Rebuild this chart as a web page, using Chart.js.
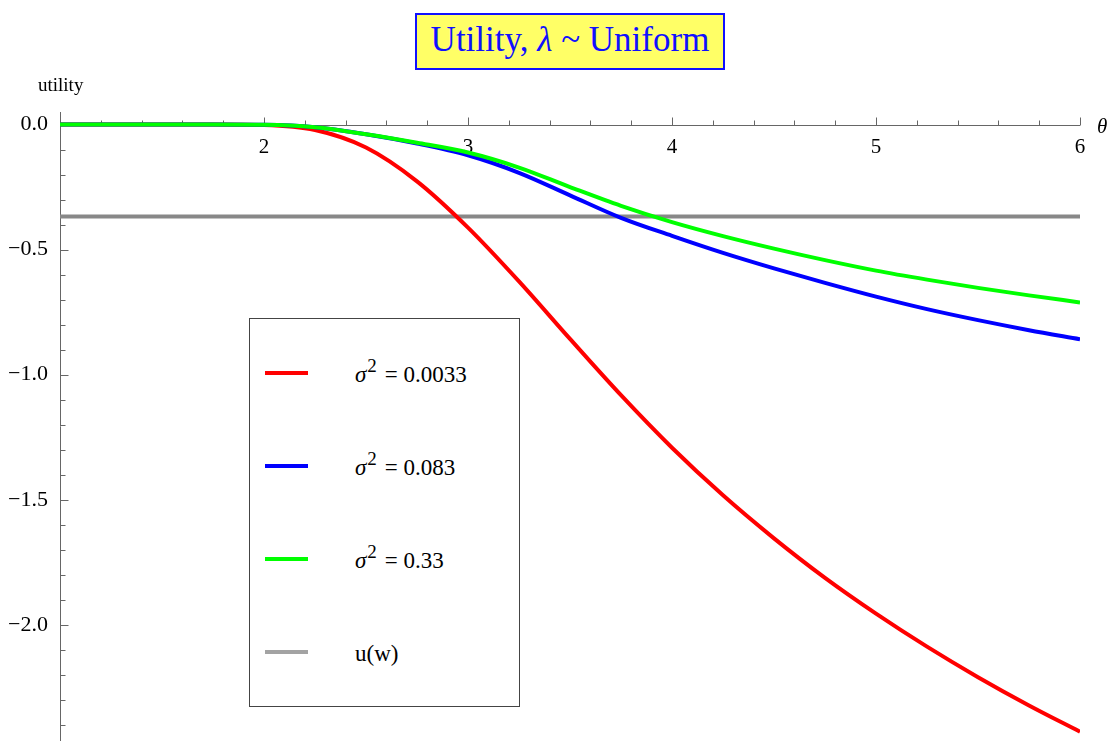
<!DOCTYPE html>
<html>
<head>
<meta charset="utf-8">
<script src="https://cdn.jsdelivr.net/npm/chart.js@4"></script>
<style>
  body { margin: 0; background: #fff; font-family: 'Liberation Serif', serif; }
  #wrap { position: relative; width: 1110px; height: 741px; overflow: hidden; }
  canvas { display: block; }
  #title {
    position: absolute; left: 415px; top: 13px; width: 306px; height: 53px;
    background: #ffff66; border: 2px solid #1010ff; color: #1010ff;
    font-size: 35px; line-height: 49px; text-align: center; white-space: nowrap;
  }
  #ylab { position: absolute; left: 38px; top: 74px; font-size: 19px; }
  #xlab { position: absolute; left: 1097px; top: 114px; font-size: 21px; font-style: italic; }
  #legend {
    position: absolute; left: 249px; top: 318px; width: 269px; height: 387px;
    border: 1px solid #444; background: #fff;
  }
  .item { position: absolute; left: 0; width: 269px; height: 30px; }
  .swatch { position: absolute; left: 15px; top: 13px; width: 43px; height: 4px; }
  .txt { position: absolute; left: 105px; top: 2px; font-size: 23px; line-height: 30px; white-space: nowrap; }
  .txt sup { font-size: 19px; vertical-align: 10px; line-height: 0; margin-left: 1px; margin-right: 8px; }
</style>
</head>
<body>
<div id="wrap">
  <canvas id="myChart" width="1110" height="741"></canvas>
  <div id="title">Utility, <i>λ</i> ~ Uniform</div>
  <div id="ylab">utility</div>
  <div id="xlab">θ</div>
  <div id="legend"></div>
</div>
<script>
// theta values and read-off utility curves
const theta = [1, 1.25, 1.5, 1.75, 2, 2.25, 2.5, 2.75, 3, 3.25, 3.5, 3.75, 4, 4.25, 4.5, 4.75, 5, 5.25, 5.5, 5.75, 6];
const uRed = [0, 0, 0, 0, -0.002, -0.022, -0.092, -0.227, -0.412, -0.627, -0.857, -1.082, -1.292, -1.482, -1.654, -1.812, -1.955, -2.087, -2.209, -2.322, -2.427];
const uBlue = [0, 0, 0, 0, -0.001, -0.011, -0.039, -0.076, -0.123, -0.193, -0.283, -0.373, -0.445, -0.513, -0.575, -0.633, -0.688, -0.738, -0.782, -0.822, -0.858];
const uGreen = [0, 0, 0, 0, -0.001, -0.011, -0.039, -0.073, -0.112, -0.172, -0.25, -0.325, -0.39, -0.446, -0.496, -0.542, -0.584, -0.62, -0.653, -0.683, -0.711];
const uW = -0.368;

const sigmaLabels = ['0.0033', '0.083', '0.33'];
const xTicks = [2, 3, 4, 5, 6];
const yTicks = [-2.0, -1.5, -1.0, -0.5, 0];

const pts = (ys) => theta.map((t, i) => ({ x: t, y: ys[i] }));

const series = [
  { label: sigmaLabels[0], data: pts(uRed), color: '#ff0000', swatch: '#ff0000' },
  { label: sigmaLabels[1], data: pts(uBlue), color: '#0000ff', swatch: '#0000ff' },
  { label: sigmaLabels[2], data: pts(uGreen), color: '#00ff00', swatch: '#00ff00' },
  { label: 'u(w)', data: [{ x: 1, y: uW }, { x: 6, y: uW }], color: '#888888', swatch: '#a3a3a3' },
];

// legend box
const legend = document.getElementById('legend');
series.forEach((s, i) => {
  const item = document.createElement('div');
  item.className = 'item';
  item.style.top = (39 + i * 93) + 'px';
  const text = i < 3 ? '<i>σ</i><sup>2</sup>= ' + s.label : s.label;
  item.innerHTML = '<div class="swatch" style="background:' + s.swatch + '"></div><div class="txt">' + text + '</div>';
  legend.appendChild(item);
});

// Mathematica-like axes with inward tick marks
const axesPlugin = {
  id: 'axes',
  beforeDatasetsDraw(chart) {
    const { ctx, chartArea, scales: { x, y } } = chart;
    const y0 = Math.round(y.getPixelForValue(0)) + 0.5;
    const x0 = Math.round(chartArea.left) + 0.5;
    ctx.save();
    ctx.strokeStyle = '#666';
    ctx.lineWidth = 1;
    ctx.beginPath();
    ctx.moveTo(chartArea.left, y0);
    ctx.lineTo(chartArea.right, y0);
    ctx.moveTo(x0, chartArea.top);
    ctx.lineTo(x0, chartArea.bottom);
    for (let k = 6; k <= 30; k++) {
      const px = Math.round(x.getPixelForValue(k / 5)) + 0.5;
      const len = k % 5 === 0 ? 8 : 5;
      ctx.moveTo(px, y0);
      ctx.lineTo(px, y0 - len);
    }
    for (let k = 0; k >= -24; k--) {
      const py = Math.round(y.getPixelForValue(k / 10)) + 0.5;
      const len = k % 5 === 0 ? 8 : 5;
      ctx.moveTo(x0, py);
      ctx.lineTo(x0 + len, py);
    }
    ctx.stroke();
    ctx.restore();
  },
};

const fmt = (v) => v.toFixed(1).replace('-', '\u2212');

new Chart('myChart', {
  type: 'line',
  data: {
    datasets: series.map((s, i) => ({
      label: s.label,
      data: s.data,
      borderColor: s.color,
      borderWidth: 4,
      pointRadius: 0,
      fill: false,
      cubicInterpolationMode: 'monotone',
      order: i === 3 ? 10 : 3 - i,
    })),
  },
  options: {
    responsive: false,
    animation: false,
    layout: { padding: { left: 0, top: 112, right: 30, bottom: 0 } },
    plugins: { legend: { display: false }, tooltip: { enabled: false } },
    scales: {
      x: {
        type: 'linear',
        min: 1,
        max: 6,
        position: { y: 0 },
        grid: { display: false },
        border: { display: false },
        afterBuildTicks: (s) => { s.ticks = xTicks.map((v) => ({ value: v })); },
        afterFit: (s) => { s.height = 0; s.paddingLeft = 0; s.paddingRight = 0; },
        ticks: {
          padding: 2,
          color: '#000',
          maxRotation: 0,
          font: { family: 'Liberation Serif', size: 21 },
          callback: (v) => String(v),
        },
      },
      y: {
        type: 'linear',
        min: -2.464,
        max: 0.05,
        grid: { display: false },
        border: { display: false },
        afterBuildTicks: (s) => { s.ticks = yTicks.map((v) => ({ value: v })); },
        afterFit: (s) => { s.width = 60; s.paddingTop = 0; s.paddingBottom = 0; },
        ticks: {
          padding: 4,
          color: '#000',
          font: { family: 'Liberation Serif', size: 22 },
          callback: (v) => fmt(v),
        },
      },
    },
  },
  plugins: [axesPlugin],
});
</script>
</body>
</html>
